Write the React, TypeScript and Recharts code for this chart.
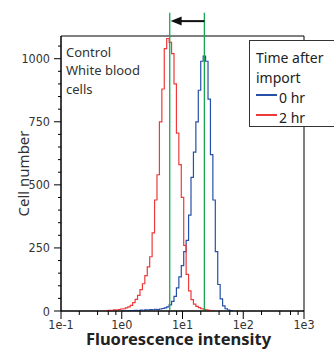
import { LineChart, Line, XAxis, YAxis, ReferenceLine, ReferenceArea, Legend } from 'recharts'

// histogram bins, log10 of fluorescence intensity
const binLog = [
  -0.40, -0.36, -0.32, -0.28, -0.24, -0.20, -0.16, -0.12, -0.08, -0.04,
  0.00, 0.04, 0.08, 0.12, 0.16, 0.20, 0.24, 0.28, 0.32, 0.36,
  0.40, 0.44, 0.48, 0.52, 0.56, 0.60, 0.64, 0.68, 0.72, 0.76,
  0.80, 0.84, 0.88, 0.92, 0.96, 1.00, 1.04, 1.08, 1.12, 1.16,
  1.20, 1.24, 1.28, 1.32, 1.36, 1.40, 1.44, 1.48, 1.52, 1.56,
  1.60, 1.64, 1.68, 1.72, 1.76, 1.80, 1.84, 1.88,
]

// 0 hr (blue)
const hr0 = [
  null, null, null, null, null, null, null, null, null, null,
  0, 1, 0, 2, 1, 2, 3, 2, 4, 3,
  5, 4, 6, 5, 7, 6, 8, 10, 12, 16,
  24, 38, 58, 92, 135, 180, 235, 280, 380, 530,
  630, 750, 875, 990, 1010, 990, 840, 620, 440, 235,
  105, 48, 20, 9, 4, 2, 0, null,
]

// 2 hr (red)
const hr2 = [
  null, null, null, 0, 2, 3, 2, 5, 4, 6,
  8, 9, 12, 16, 22, 33, 46, 62, 85, 108,
  140, 175, 215, 310, 440, 540, 750, 880, 1040, 1080,
  1065, 1020, 900, 705, 580, 450, 260, 145, 80, 45,
  27, 18, 13, 9, 7, 5, 3, 2, 0, null,
  null, null, null, null, null, null, null, null,
]

const xTickValues = [0.1, 0.2, 0.4, 0.6, 0.8, 1, 2, 4, 6, 8, 10, 20, 40, 60, 80, 100, 200, 400, 600, 800, 1000]
const xMajorLabels = ['1e-1', '1e0', '1e1', '1e2', '1e3']
const yTicks = [0, 50, 100, 150, 200, 250, 300, 350, 400, 450, 500, 550, 600, 650, 700, 750, 800, 850, 900, 950, 1000, 1050]
const yMajor = [0, 250, 500, 750, 1000]
const gateLog = [0.79, 1.36]
const noteLines = ['Control', 'White blood', 'cells']
const legendTitle = ['Time after', 'import']

const data = binLog.map((lg, i) => ({ lg, hr0: hr0[i], hr2: hr2[i] }))

const tickFont = "'Liberation Sans Narrow', 'DejaVu Sans Condensed', sans-serif"
const textFont = "'Noto Sans', sans-serif"

const XTick = (props: any) => {
  const { x, y, payload } = props
  const v = payload.value
  const major = Math.abs(v - Math.round(v)) < 1e-6
  return (
    <g>
      <line x1={x} x2={x} y1={y} y2={y + (major ? 8 : 4)} stroke="#000" />
      {major && (
        <text x={x} y={y + 18} textAnchor="middle" fontSize={12.5} fontFamily={tickFont} fill="#333">
          {xMajorLabels[Math.round(v) + 1]}
        </text>
      )}
    </g>
  )
}

const YTick = (props: any) => {
  const { x, y, payload } = props
  const major = yMajor.includes(payload.value)
  return (
    <g>
      <line x1={x} x2={x - (major ? 7 : 3)} y1={y} y2={y} stroke="#000" />
      {major && (
        <text x={x - 11} y={y + 4.5} textAnchor="end" fontSize={12.5} fontFamily={tickFont} fill="#333">
          {payload.value}
        </text>
      )}
    </g>
  )
}

const renderLegend = (props: any) => {
  const { payload } = props
  return (
    <div
      style={{
        boxSizing: 'border-box',
        width: 100,
        height: 87,
        border: '1px solid #333',
        background: '#fff',
        padding: '7px 0 0 6px',
        fontFamily: textFont,
        fontSize: 14,
        lineHeight: '20px',
        color: '#222',
        textAlign: 'left',
      }}
    >
      {legendTitle.map((t) => (
        <div key={t}>{t}</div>
      ))}
      {(payload || []).map((p: any) => (
        <div key={p.value} style={{ display: 'flex', alignItems: 'center', height: 20 }}>
          <span style={{ display: 'inline-block', width: 21, height: 2, background: p.color, marginRight: 2, marginBottom: 6 }} />
          <span>{p.value}</span>
        </div>
      ))}
    </div>
  )
}

const arrowShape = (props: any) => {
  const { x1, y1, x2, y2 } = props
  const dir = x2 < x1 ? 1 : -1
  return (
    <g>
      <line x1={x1} y1={y1} x2={x2 + dir * 9} y2={y2} stroke="#111" strokeWidth={2} />
      <polygon points={`${x2},${y2} ${x2 + dir * 11},${y2 - 4.5} ${x2 + dir * 11},${y2 + 4.5}`} fill="#111" />
    </g>
  )
}

export default function App() {
  return (
    <div style={{ position: 'absolute', left: 0, top: 0, width: 334, height: 349, overflow: 'hidden', background: '#fff' }}>
      <LineChart width={334} height={349} data={data} margin={{ top: 36, right: 30, left: 0, bottom: 0 }}>
        <XAxis
          dataKey="lg"
          type="number"
          domain={[-1, 3]}
          ticks={xTickValues.map((v) => Math.log10(v))}
          tick={XTick}
          tickSize={0}
          tickMargin={0}
          tickLine={false}
          axisLine={{ stroke: '#000' }}
          height={38}
          interval={0}
          allowDataOverflow
          label={(p: any) => (
            <text
              x={p.viewBox.x + p.viewBox.width / 2 - 4}
              y={p.viewBox.y + 34}
              textAnchor="middle"
              fontSize={16.5}
              fontWeight="bold"
              fontFamily={textFont}
              fill="#222"
            >
              Fluorescence intensity
            </text>
          )}
        />
        <YAxis
          type="number"
          domain={[0, 1090]}
          ticks={yTicks}
          tick={YTick}
          tickSize={0}
          tickMargin={0}
          tickLine={false}
          axisLine={{ stroke: '#000' }}
          width={61}
          interval={0}
          allowDataOverflow
          label={(p: any) => (
            <text
              transform={`translate(23, ${p.viewBox.y + p.viewBox.height / 2}) rotate(-90)`}
              textAnchor="middle"
              dominantBaseline="central"
              fontSize={15}
              fontFamily={textFont}
              fill="#333"
            >
              Cell number
            </text>
          )}
        />
        <ReferenceArea x1={-1} x2={3} y1={0} y2={1090} fill="none" fillOpacity={0} stroke="#000" strokeWidth={1} />
        <Line
          type="step"
          dataKey="hr0"
          name="0 hr"
          stroke="#2650a8"
          strokeWidth={1.2}
          dot={false}
          isAnimationActive={false}
        />
        <Line
          type="step"
          dataKey="hr2"
          name="2 hr"
          stroke="#ee3a3a"
          strokeWidth={1.2}
          dot={false}
          isAnimationActive={false}
        />
        {gateLog.map((g) => (
          <ReferenceLine
            key={g}
            segment={[{ x: g, y: 0 }, { x: g, y: 1182 }]}
            stroke="#1aa64f"
            strokeWidth={1.3}
            ifOverflow="visible"
          />
        ))}
        <ReferenceLine
          segment={[{ x: gateLog[1], y: 1149 }, { x: 0.805, y: 1149 }]}
          ifOverflow="visible"
          shape={arrowShape}
        />
        <Legend
          layout="horizontal"
          verticalAlign="middle"
          align="center"
          content={renderLegend}
          wrapperStyle={{ position: 'absolute', left: 249, top: 40, width: 100, height: 87 }}
        />
      </LineChart>
      <div
        style={{
          position: 'absolute',
          left: 66,
          top: 42.6,
          fontFamily: textFont,
          fontSize: 13,
          lineHeight: '18.7px',
          color: '#333',
        }}
      >
        {noteLines.map((t) => (
          <div key={t}>{t}</div>
        ))}
      </div>
    </div>
  )
}
